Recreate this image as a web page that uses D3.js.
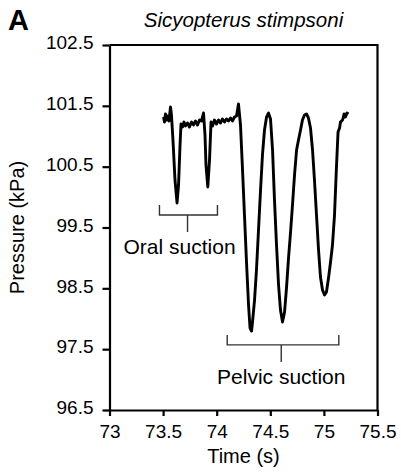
<!DOCTYPE html>
<html>
<head>
<meta charset="utf-8">
<script src="https://cdn.jsdelivr.net/npm/d3@7"></script>
<style>
  body { margin: 0; background: #fff; }
  text { font-family: "Liberation Sans", Arial, sans-serif; fill: #000; }
</style>
</head>
<body>
<svg id="chart"></svg>
<script>
// pressure trace
var time = [73.504, 73.513, 73.522, 73.532, 73.541, 73.555, 73.569, 73.578, 73.592, 73.611,
  73.630, 73.644, 73.658, 73.667, 73.681, 73.695, 73.709, 73.728, 73.746, 73.765,
  73.784, 73.802, 73.821, 73.840, 73.858, 73.877, 73.891, 73.900, 73.917, 73.933,
  73.947, 73.961, 73.979, 73.998, 74.017, 74.035, 74.054, 74.073, 74.091, 74.110,
  74.129, 74.147, 74.166, 74.185, 74.203, 74.222, 74.241, 74.259, 74.278, 74.297,
  74.311, 74.325, 74.334, 74.353, 74.371, 74.390, 74.409, 74.427, 74.446, 74.465,
  74.483, 74.502, 74.521, 74.539, 74.558, 74.577, 74.595, 74.614, 74.633, 74.651,
  74.670, 74.689, 74.707, 74.726, 74.745, 74.763, 74.782, 74.800, 74.819, 74.838,
  74.856, 74.875, 74.894, 74.912, 74.931, 74.950, 74.968, 74.987, 75.006, 75.024,
  75.043, 75.062, 75.080, 75.099, 75.118, 75.132, 75.146, 75.155, 75.174, 75.188,
  75.201, 75.215, 75.229];
var pressure = [101.316, 101.234, 101.366, 101.267, 101.333, 101.251, 101.481, 101.349, 100.938, 100.281,
  99.903, 100.199, 100.856, 101.201, 101.152, 101.234, 101.168, 101.218, 101.152, 101.234,
  101.185, 101.251, 101.185, 101.267, 101.251, 101.382, 101.020, 100.527, 100.166, 100.610,
  101.234, 101.168, 101.267, 101.201, 101.267, 101.218, 101.283, 101.234, 101.283, 101.251,
  101.300, 101.251, 101.316, 101.333, 101.530, 101.185, 100.445, 99.705, 98.933, 98.226,
  97.848, 97.798, 97.946, 98.308, 98.801, 99.459, 100.116, 100.692, 101.103, 101.316,
  101.382, 101.283, 100.774, 99.952, 99.212, 98.555, 98.144, 97.946, 98.111, 98.505,
  98.998, 99.426, 99.870, 100.363, 100.774, 100.938, 101.103, 101.267, 101.349, 101.366,
  101.300, 101.136, 100.774, 100.281, 99.705, 99.130, 98.686, 98.472, 98.390, 98.440,
  98.670, 98.933, 99.212, 99.705, 100.527, 101.070, 101.136, 101.234, 101.267, 101.366,
  101.316, 101.382, 101.366];

var xTicks = [73, 73.5, 74, 74.5, 75, 75.5];
var yTicks = [96.5, 97.5, 98.5, 99.5, 100.5, 101.5, 102.5];

// brackets: start, end, centre in s; level in kPa
var brackets = [
  { label: 'Oral suction', from: 73.466, to: 74.007, mid: 73.728, level: 99.705 },
  { label: 'Pelvic suction', from: 74.098, to: 75.139, mid: 74.602, level: 97.57 }
];

var data = time.map((t, i) => [t, pressure[i]]);

var W = 401, H = 476;
var margin = { top: 45, right: 23.5, bottom: 66, left: 109.5 };
var width = W - margin.left - margin.right,
  height = H - margin.top - margin.bottom;

var x = d3.scaleLinear().domain([73, 75.5]).range([0, width]);
var y = d3.scaleLinear().domain([96.5, 102.5]).range([height, 0]);

var svg = d3.select('#chart')
  .attr('width', W)
  .attr('height', H);

var g = svg.append('g')
  .attr('transform', 'translate(' + margin.left + ',' + margin.top + ')');

var xAxis = d3.axisBottom(x)
  .tickValues(xTicks)
  .tickFormat(d3.format('~g'))
  .tickSizeInner(6)
  .tickSizeOuter(0)
  .tickPadding(9);

var yAxis = d3.axisLeft(y)
  .tickValues(yTicks)
  .tickFormat(d3.format('.1f'))
  .tickSizeInner(7)
  .tickSizeOuter(0)
  .tickPadding(9);

var gx = g.append('g')
  .attr('transform', 'translate(0,' + height + ')')
  .call(xAxis);

var gy = g.append('g')
  .call(yAxis);

[gx, gy].forEach(a => {
  a.selectAll('path, line').attr('stroke', '#000').attr('stroke-width', 2.2);
  a.selectAll('text').style('font-size', '19px').attr('fill', '#000');
});
gy.selectAll('text').attr('dy', '0.2em');

// top and right borders of the box
g.append('path')
  .attr('d', 'M0,0H' + width + 'V' + height)
  .attr('fill', 'none')
  .attr('stroke', '#000')
  .attr('stroke-width', 2.2);

// brackets
brackets.forEach(b => {
  var yl = y(b.level);
  g.append('path')
    .attr('d', 'M' + x(b.from) + ',' + (yl - 10) + 'V' + yl + 'H' + x(b.to) + 'V' + (yl - 10)
      + 'M' + x(b.mid) + ',' + yl + 'v17')
    .attr('fill', 'none')
    .attr('stroke', '#333')
    .attr('stroke-width', 1.4);
  g.append('text')
    .attr('x', x(b.mid) - (b.label == 'Oral suction' ? 8 : 0))
    .attr('y', yl + 39)
    .attr('text-anchor', 'middle')
    .style('font-size', '21px')
    .text(b.label);
});

var line = d3.line()
  .x(d => x(d[0]))
  .y(d => y(d[1]));

g.append('path')
  .datum(data)
  .attr('d', line)
  .attr('fill', 'none')
  .attr('stroke', '#000')
  .attr('stroke-width', 2.9)
  .attr('stroke-linejoin', 'round');

// titles
svg.append('text')
  .attr('x', margin.left + width / 2)
  .attr('y', 27)
  .attr('text-anchor', 'middle')
  .style('font-size', '20.5px')
  .style('font-style', 'italic')
  .text('Sicyopterus stimpsoni');

svg.append('text')
  .attr('x', 8)
  .attr('y', 30)
  .style('font-size', '29px')
  .style('font-weight', 'bold')
  .text('A');

svg.append('text')
  .attr('x', margin.left + width / 2)
  .attr('y', 463)
  .attr('text-anchor', 'middle')
  .style('font-size', '20px')
  .text('Time (s)');

svg.append('text')
  .attr('transform', 'translate(24,' + (margin.top + height / 2) + ') rotate(-90)')
  .attr('text-anchor', 'middle')
  .style('font-size', '20px')
  .text('Pressure (kPa)');
</script>
</body>
</html>
